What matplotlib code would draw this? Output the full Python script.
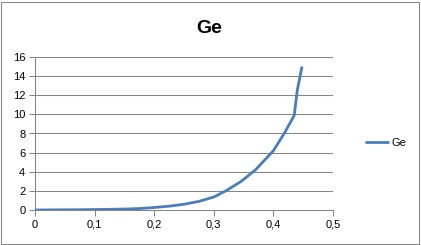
import numpy as np
import matplotlib.pyplot as plt

# values
x = [0, 0.025, 0.05, 0.075, 0.1, 0.125, 0.15, 0.175, 0.2, 0.225, 0.25, 0.275,
     0.3, 0.32, 0.345, 0.37, 0.4, 0.42, 0.435, 0.44, 0.448]
y = [0, 0.01, 0.02, 0.03, 0.05, 0.07, 0.1, 0.15, 0.26, 0.4, 0.6, 0.9,
     1.36, 2.0, 2.95, 4.2, 6.2, 8.2, 9.9, 12.5, 15.0]

xticks = [0, 0.1, 0.2, 0.3, 0.4, 0.5]
xlabels = ['0', '0,1', '0,2', '0,3', '0,4', '0,5']
yticks = [0, 2, 4, 6, 8, 10, 12, 14, 16]

plt.rcParams['font.family'] = ['Liberation Sans', 'DejaVu Sans']

fig = plt.figure(figsize=(4.21, 2.45), dpi=100)
ax = fig.add_axes([35 / 421, 1 - 210 / 245, 298 / 421, 153 / 245])

grid_c = '#868686'
for t in yticks[1:]:
    ax.axhline(t, color=grid_c, lw=0.75, zorder=1)

line, = ax.plot(x, y, color='#4A7EBB', lw=2.0, label='Ge', zorder=3,
                solid_capstyle='butt')

ax.set_xlim(0, 0.5)
ax.set_ylim(0, 16)
ax.set_xticks(xticks)
ax.set_xticklabels(xlabels)
ax.set_yticks(yticks)
ax.tick_params(direction='out', length=4, width=0.75, color=grid_c,
               labelsize=8, pad=3)
for s in ['top', 'right']:
    ax.spines[s].set_visible(False)
for s in ['left', 'bottom']:
    ax.spines[s].set_color(grid_c)
    ax.spines[s].set_linewidth(0.75)

fig.text(0.497, 0.885, 'Ge', ha='center', va='center', fontsize=14,
         fontweight='bold')

fig.legend(handles=[line], loc='center left', bbox_to_anchor=(355 / 421, 1 - 143 / 245),
           frameon=False, fontsize=8, handlelength=2.2, handletextpad=0.2)

# outer chart border
fig.patches.append(plt.Rectangle((1 / 421, 1 / 245), 418 / 421, 242 / 245,
                                 transform=fig.transFigure, fill=False,
                                 edgecolor='#868686', lw=0.75))

fig.savefig('out.png', dpi=100)
